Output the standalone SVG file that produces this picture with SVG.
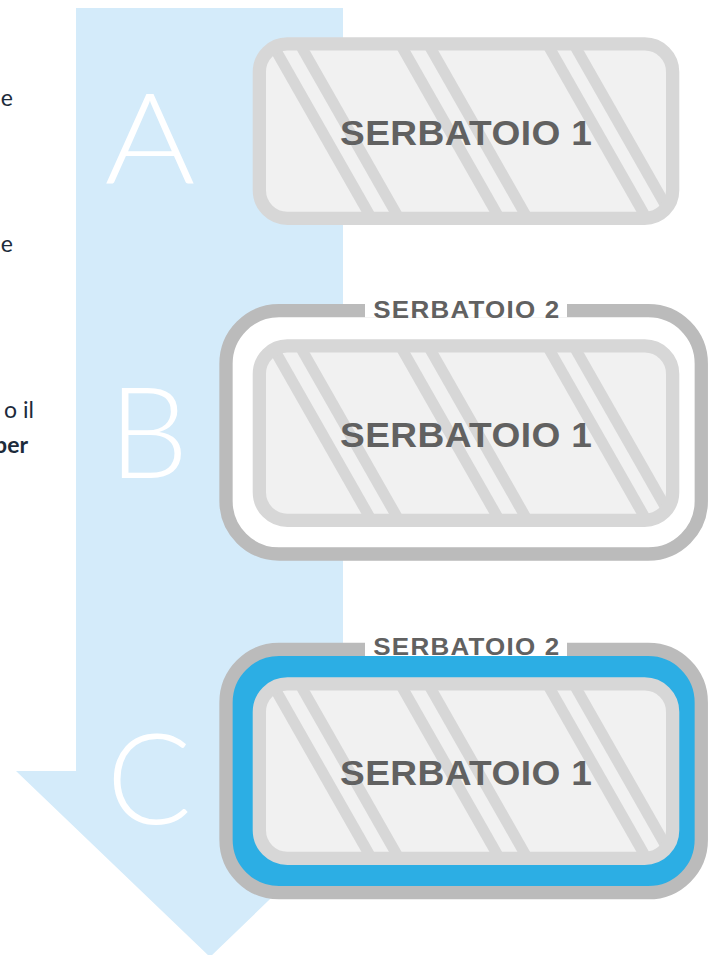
<svg xmlns="http://www.w3.org/2000/svg" width="709" height="955" viewBox="0 0 709 955">
<style>
.tkfill{fill:#f1f1f1}
.tkline{fill:none;stroke:#d7d7d7;stroke-width:13.3}
.stripe{stroke:#d7d7d7;stroke-width:11}
.t1{font-family:"Liberation Sans",Arial,sans-serif;font-weight:bold;font-size:35px;fill:#616161;text-anchor:middle}
.t2{font-family:"Liberation Sans",Arial,sans-serif;font-weight:bold;font-size:24.5px;fill:#616161;text-anchor:middle}
.outer{stroke:#bbbbbb;stroke-width:13.3}
.letter{font-family:Lato,Inter,"Liberation Sans",sans-serif;font-weight:300;font-size:126px;fill:#ffffff;text-anchor:middle}
.side{font-family:Lato,"Liberation Sans",sans-serif;font-size:23px;fill:#1c2b3b;text-anchor:end}
</style>
<defs>
<clipPath id="tc"><rect x="6.65" y="6.65" width="413.3" height="174.4" rx="28"/></clipPath>
<g id="tank">
<rect class="tkfill" x="6.65" y="6.65" width="413.3" height="174.4" rx="28"/>
<g clip-path="url(#tc)">
<line class="stripe" x1="11.9" y1="-6.7" x2="137.1" y2="213.3"/>
<line class="stripe" x1="39.4" y1="-6.7" x2="164.6" y2="213.3"/>
<line class="stripe" x1="139.9" y1="-6.7" x2="265.1" y2="213.3"/>
<line class="stripe" x1="167.9" y1="-6.7" x2="293.1" y2="213.3"/>
<line class="stripe" x1="286.9" y1="-6.7" x2="412.1" y2="213.3"/>
<line class="stripe" x1="313.4" y1="-6.7" x2="438.6" y2="213.3"/>
</g>
<rect class="tkline" x="6.65" y="6.65" width="413.3" height="174.4" rx="28"/>
<text class="t1" transform="translate(213.3,108) scale(1.06,1)" x="0" y="0" textLength="237.7" lengthAdjust="spacing">SERBATOIO 1</text>
</g>
</defs>

<g id="side-text">
<text class="side" x="13" y="106">e</text>
<text class="side" x="13" y="252">e</text>
<text class="side" x="34" y="418">o il</text>
<text class="side" x="28" y="452.5" font-weight="bold">per</text>
</g>

<g id="flow-arrow">
<polygon points="76,8 343,8 343,771 403,771 210,957 16,771 76,771" fill="#d4ebfa"/>
<text class="letter" transform="translate(150,184) scale(1.1,1)" x="0" y="0">A</text>
<text class="letter" x="148.5" y="477.7">B</text>
<text class="letter" x="149" y="824">C</text>
</g>

<g id="connectors"></g>

<g id="step-a">
<use href="#tank" x="252.7" y="37.3"/>
</g>

<g id="step-b">
<rect class="outer" x="226" y="310.7" width="475.3" height="243.3" rx="53" fill="#ffffff"/>
<rect x="365" y="299" width="202" height="18.3" fill="#ffffff"/>
<text class="t2" transform="translate(466.3,318.3) scale(1.06,1)" x="0" y="0" textLength="175.5" lengthAdjust="spacing">SERBATOIO 2</text>
<use href="#tank" x="252.7" y="339.3"/>
</g>

<g id="step-c">
<rect class="outer" x="226" y="649.4" width="475.3" height="243.3" rx="53" fill="#2caee4"/>
<rect x="365" y="636" width="202" height="20" fill="#ffffff"/>
<text class="t2" transform="translate(466.3,654.5) scale(1.06,1)" x="0" y="0" textLength="175.5" lengthAdjust="spacing">SERBATOIO 2</text>
<use href="#tank" x="252.7" y="677.3"/>
</g>
</svg>
